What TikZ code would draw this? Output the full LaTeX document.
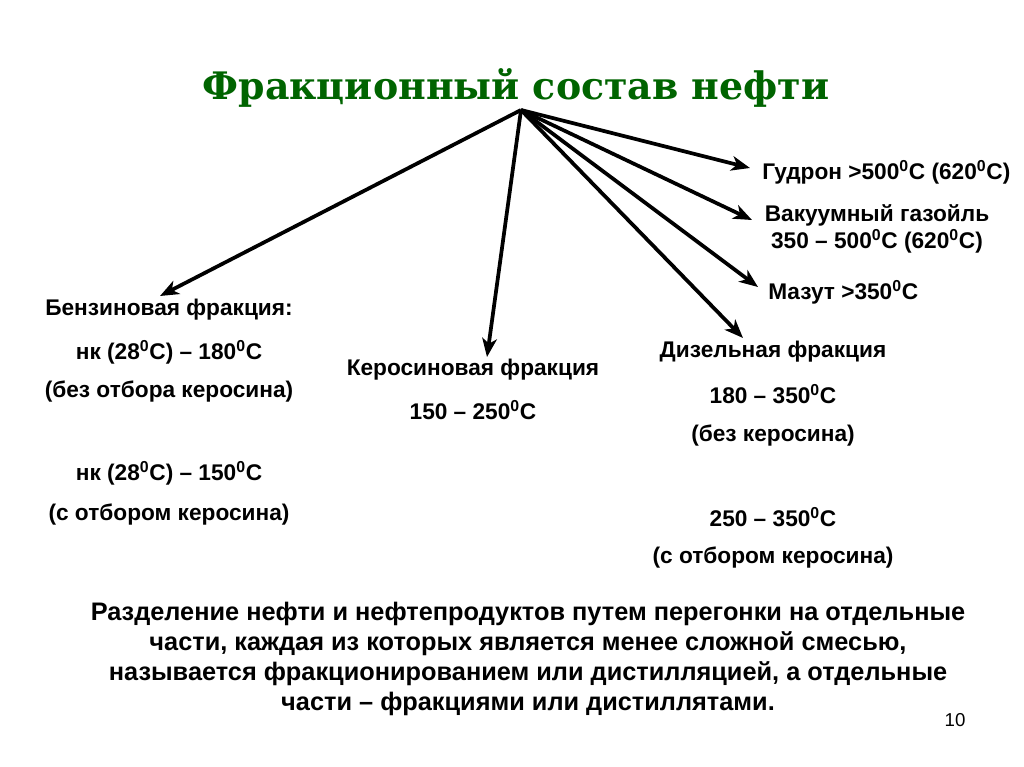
\documentclass[tikz,border=0pt]{standalone}
\usepackage{fontspec}
\setmainfont{Liberation Sans}
\newfontfamily\titlefont{DejaVu Serif}
\usetikzlibrary{arrows.meta}
\definecolor{titlegreen}{RGB}{0,100,0}
\tikzset{
  lbl/.style={font=\bfseries\fontsize{17}{20.3}\selectfont, inner sep=0pt, align=center},
  arr/.style={line width=2.8pt, -{Stealth[length=14pt,width=11pt,inset=4pt]}},
  para/.style={font=\bfseries\fontsize{19}{22.5}\selectfont, inner sep=0pt, align=center}
}
\newcommand{\dg}{\textsuperscript{0}}
\begin{document}
\begin{tikzpicture}[x=0.75pt,y=-0.75pt]
\useasboundingbox[fill=white] (0,0) rectangle (1024,767);
\node[font=\titlefont\bfseries\fontsize{28.4}{32}\selectfont, text=titlegreen, inner sep=0pt] (title) at (516,88) {Фракционный состав нефти};
\coordinate (hub) at (521,110);
% right labels
\node[lbl, anchor=west] (gud) at (762,172) {Гудрон >500\dg C (620\dg C)};
\node[lbl] (vak) at (877,229) {Вакуумный газойль\\350 – 500\dg C (620\dg C)};
\node[lbl, anchor=west] (maz) at (768,292) {Мазут >350\dg C};
% left
\node[lbl] (benz1) at (169,310) {Бензиновая фракция:};
\node[lbl] (benz2) at (169,352) {нк (28\dg C) – 180\dg C};
\node[lbl] (benz3) at (169,392) {(без отбора керосина)};
\node[lbl] (benz4) at (169,473) {нк (28\dg C) – 150\dg C};
\node[lbl] (benz5) at (169,515) {(с отбором керосина)};
% kerosene
\node[lbl] (ker1) at (473,370) {Керосиновая фракция};
\node[lbl] (ker2) at (473,410) {150 – 250\dg C};
% diesel
\node[lbl] (dis1) at (773,352) {Дизельная фракция};
\node[lbl] (dis2) at (773,394) {180 – 350\dg C};
\node[lbl] (dis3) at (773,436) {(без керосина)};
\node[lbl] (dis4) at (773,517) {250 – 350\dg C};
\node[lbl] (dis5) at (773,558) {(с отбором керосина)};
% arrow tips
\coordinate (tb) at (160,296);
\coordinate (tk) at (487,357);
\coordinate (tg) at (750,168);
\coordinate (tv) at (752,220);
\coordinate (tm) at (758,287);
\coordinate (td) at (743,338);
\foreach \t in {tb,tk,tg,tv,tm,td} \draw[arr] (hub) -- (\t);
% paragraph
\node[para] (par) at (528,659) {Разделение нефти и нефтепродуктов путем перегонки на отдельные\\части, каждая из которых является менее сложной смесью,\\называется фракционированием или дистилляцией, а отдельные\\части – фракциями или дистиллятами.};
\node[font=\fontsize{14}{16}\selectfont, inner sep=0pt] (pg) at (955,720) {10};
\end{tikzpicture}
\end{document}
